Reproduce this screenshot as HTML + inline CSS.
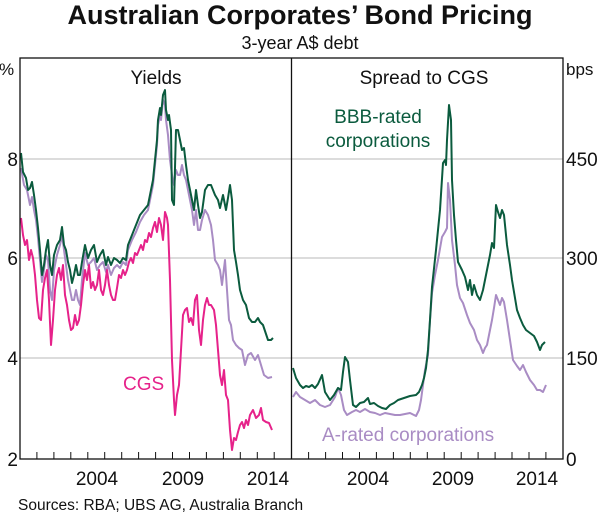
<!DOCTYPE html>
<html><head><meta charset="utf-8"><style>
body{margin:0;background:#fff;}
svg{display:block;font-family:"Liberation Sans",Arial,sans-serif;}
</style></head><body>
<svg width="600" height="517" viewBox="0 0 600 517">
<text x="300" y="24" font-size="27" font-weight="bold" text-anchor="middle" fill="#111">Australian Corporates’ Bond Pricing</text>
<text x="300" y="49" font-size="18" text-anchor="middle" fill="#111">3-year A$ debt</text>
<g stroke="#c8c8c8" stroke-width="1.3">
<line x1="20" y1="159" x2="563" y2="159"/><line x1="20" y1="258" x2="563" y2="258"/><line x1="20" y1="358" x2="563" y2="358"/>
</g>
<g stroke="#111" stroke-width="1">
<path d="M36.9 459v-7M53.9 459v-7M70.8 459v-7M87.8 459v-7M104.7 459v-7M121.7 459v-7M138.6 459v-7M155.6 459v-7M172.5 459v-7M189.5 459v-7M206.4 459v-7M223.4 459v-7M240.3 459v-7M257.3 459v-7M274.2 459v-7M308.6 459v-7M325.6 459v-7M342.5 459v-7M359.5 459v-7M376.4 459v-7M393.4 459v-7M410.3 459v-7M427.3 459v-7M444.2 459v-7M461.2 459v-7M478.1 459v-7M495.1 459v-7M512 459v-7M529 459v-7M545.9 459v-7"/>
</g>
<g fill="none" stroke-width="2" stroke-linejoin="round">
<polyline stroke="#a98cc4" points="21,168 24,185 27,190 30,205 32,197 34,210 36,220 38,238 40,260 42,282 44,270 46,255 48,260 50,290 52,300 54,270 57,255 60,245 62,235 64,250 66,265 68,280 70,290 72,300 74,300 76,290 78,300 80,305 82,280 85,253 88,265 91,262 94,258 97,270 100,265 103,262 106,272 108,265 111,275 114,268 117,265 120,268 123,262 126,265 128,250 132,240 136,232 140,222 144,215 148,210 150,200 153,185 155,165 157,145 158,125 160,115 161,120 163,100 165,105 166,120 168,135 170,160 172,175 174,185 176,170 178,175 180,175 182,165 184,175 186,180 188,190 190,200 192,210 194,225 196,210 198,230 200,230 202,220 205,210 208,215 211,225 213,240 215,260 218,265 220,270 222,285 225,260 227,290 229,320 231,325 233,340 236,345 239,348 242,350 245,365 248,355 251,353 255,360 258,355 261,365 264,375 268,378 272,377"/>
<polyline stroke="#0b5b3e" points="21,153 23,172 26,178 28,190 30,188 32,182 34,195 36,210 38,228 40,250 42,275 44,265 46,250 48,240 50,265 52,275 54,255 57,245 60,240 62,227 64,245 66,250 68,262 70,270 72,283 74,275 76,265 78,275 80,275 82,262 85,245 88,258 91,250 94,245 97,262 100,255 103,250 106,265 108,257 111,265 114,258 117,260 120,263 123,258 126,260 128,245 132,235 136,225 140,215 144,210 148,205 150,195 153,180 155,160 157,140 158,120 160,108 161,115 163,95 165,90 166,110 168,120 169,115 171,130 172,200 174,205 176,130 178,130 180,140 182,150 184,148 186,165 188,180 190,190 192,200 194,210 196,190 198,205 200,218 202,212 205,190 208,185 211,185 213,190 215,195 218,200 220,208 223,195 226,210 228,198 230,185 232,200 234,250 236,262 238,275 240,290 243,300 246,305 249,318 252,322 255,322 258,318 260,322 263,325 266,334 268,340 271,340 273,338"/>
<polyline stroke="#e6228a" points="21,218 23,235 25,245 27,240 29,260 31,250 33,258 35,275 37,300 39,318 41,320 43,290 45,278 47,270 49,300 51,345 53,320 55,290 57,275 59,268 61,280 63,265 65,295 67,305 69,320 71,330 73,328 75,315 77,325 79,320 81,305 83,285 85,270 87,280 89,265 91,288 93,282 95,290 97,285 99,270 101,290 103,295 105,285 107,270 109,285 111,295 113,300 115,300 117,288 119,275 121,278 123,270 125,275 127,270 129,262 131,258 133,263 135,253 137,255 139,250 141,245 143,250 145,240 147,242 149,233 151,237 153,228 155,222 157,232 159,218 161,225 163,240 165,212 167,218 168,225 170,280 172,360 174,400 175,415 177,395 179,385 181,350 183,315 185,310 187,308 189,322 191,318 193,325 195,300 197,295 199,330 201,345 203,320 205,305 207,298 209,305 211,305 214,310 216,325 218,350 220,375 222,385 224,370 226,395 228,400 230,430 232,450 234,438 236,440 238,432 240,425 242,422 244,428 246,420 248,425 250,415 253,410 256,418 259,415 261,408 263,420 266,422 269,423 272,430"/>
<polyline stroke="#a98cc4" points="293,397 296,392 300,397 305,400 310,403 315,400 320,405 325,407 330,405 335,397 338,388 341,395 344,410 347,415 352,412 356,410 360,412 365,409 370,412 375,413 380,415 385,413 390,414 395,415 400,415 410,413 416,416 419,410 421,400 423,385 425,370 428,355 430,320 432,293 435,275 438,260 442,237 445,232 447,228 448,183 450,200 452,240 455,265 457,285 460,298 463,303 467,315 470,323 474,330 477,340 480,345 483,353 485,348 487,345 489,335 492,320 494,308 496,295 498,300 500,305 502,298 504,302 507,320 510,340 513,360 517,366 520,370 523,365 526,372 530,380 534,385 537,390 540,390 543,392 546,385"/>
<polyline stroke="#0b5b3e" points="293,368 296,378 300,385 303,388 306,386 309,387 312,385 315,388 318,384 322,375 325,392 330,400 334,395 338,388 341,390 343,372 345,357 348,362 350,380 353,405 356,407 360,403 364,402 368,398 370,404 374,403 378,406 382,408 386,409 390,405 394,403 398,400 404,398 410,396 416,395 419,392 422,385 424,378 426,368 428,350 430,320 432,287 436,250 440,210 443,163 445,160 446,165 447,140 449,105 451,120 452,180 454,215 456,240 458,262 462,270 465,277 468,290 470,280 472,295 474,285 477,295 480,300 483,290 486,275 488,265 490,255 492,243 494,248 496,205 498,212 500,218 502,210 504,215 507,245 510,265 512,280 515,298 517,310 520,318 523,325 526,330 530,333 534,336 537,342 540,350 542,345 545,342"/>
</g>
<rect x="20" y="58" width="543" height="401" fill="none" stroke="#111" stroke-width="1.3"/>
<line x1="291.5" y1="58" x2="291.5" y2="459" stroke="#111" stroke-width="1.3"/>
<g font-size="19" fill="#111">
<text x="-1" y="75" font-size="17">%</text>
<text x="566" y="75" font-size="17">bps</text>
<g text-anchor="end"><text x="18" y="166">8</text><text x="18" y="265">6</text><text x="18" y="365">4</text><text x="18" y="466">2</text></g>
<text x="566" y="166">450</text><text x="566" y="265">300</text><text x="566" y="365">150</text><text x="566" y="466">0</text>
<g text-anchor="middle"><text x="97" y="485">2004</text><text x="183" y="485">2009</text><text x="268" y="485">2014</text>
<text x="368" y="485">2004</text><text x="453" y="485">2009</text><text x="537" y="485">2014</text>
<text x="156" y="84">Yields</text><text x="424" y="84">Spread to CGS</text></g>
<text x="378" y="123" text-anchor="middle" fill="#0b5b3e">BBB-rated</text>
<text x="378" y="147" text-anchor="middle" fill="#0b5b3e">corporations</text>
<text x="322" y="441" fill="#a98cc4">A-rated corporations</text>
<text x="123" y="390" fill="#e6228a">CGS</text>
</g>
<text x="18" y="510" font-size="15.5" fill="#111">Sources:  RBA; UBS AG, Australia Branch</text>
</svg>
</body></html>
